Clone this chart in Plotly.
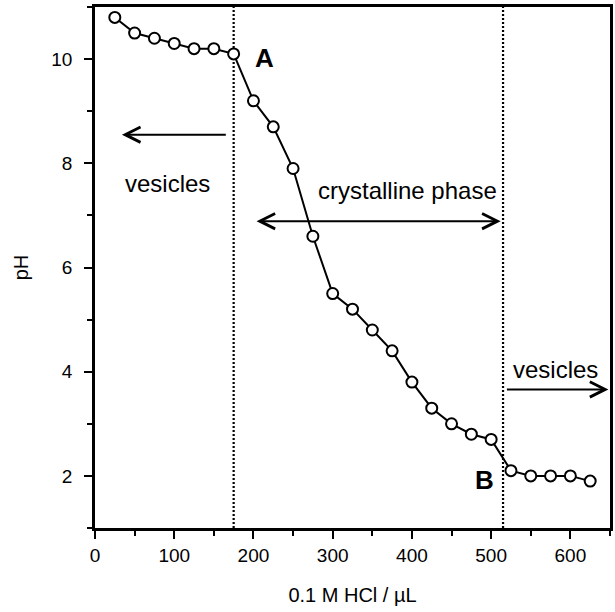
import plotly.graph_objects as go

# Data
hcl_ul = [25, 50, 75, 100, 125, 150, 175, 200, 225, 250, 275, 300, 325,
          350, 375, 400, 425, 450, 475, 500, 525, 550, 575, 600, 625]
ph = [10.8, 10.5, 10.4, 10.3, 10.2, 10.2, 10.1, 9.2, 8.7, 7.9, 6.6, 5.5, 5.2,
      4.8, 4.4, 3.8, 3.3, 3.0, 2.8, 2.7, 2.1, 2.0, 2.0, 2.0, 1.9]
boundaries = [175, 515]
x_ticks = [0, 100, 200, 300, 400, 500, 600]
y_ticks = [2, 4, 6, 8, 10]

FONT = "Liberation Sans, Arial, sans-serif"

fig = go.Figure()
fig.add_trace(go.Scatter(
    x=hcl_ul, y=ph, mode="lines+markers",
    line=dict(color="black", width=2),
    marker=dict(symbol="circle", size=11, color="white",
                line=dict(color="black", width=2)),
    showlegend=False, hoverinfo="x+y"))

for b in boundaries:
    fig.add_shape(type="line", x0=b, x1=b, y0=0, y1=1, xref="x", yref="paper",
                  line=dict(color="black", width=2.2, dash="2px,2px"), layer="below")

ann = []
# arrows
ann.append(dict(x=34, y=8.55, ax=167, ay=8.55, xref="x", yref="y", axref="x", ayref="y",
                text="", showarrow=True, arrowhead=5, arrowsize=1.5, arrowwidth=2,
                arrowcolor="black", standoff=0, startstandoff=0))
ann.append(dict(x=512, y=6.89, ax=202, ay=6.89, xref="x", yref="y", axref="x", ayref="y",
                text="", showarrow=True, arrowhead=5, startarrowhead=5, arrowside="end+start",
                arrowsize=1.5, startarrowsize=1.5, arrowwidth=2,
                arrowcolor="black", standoff=0, startstandoff=0))
ann.append(dict(x=648, y=3.66, ax=518, ay=3.66, xref="x", yref="y", axref="x", ayref="y",
                text="", showarrow=True, arrowhead=5, arrowsize=1.5, arrowwidth=2,
                arrowcolor="black", standoff=0, startstandoff=0))
# labels
txt_font = dict(family=FONT, size=24, color="black")
ann.append(dict(x=92, y=7.62, xref="x", yref="y", text="vesicles", showarrow=False, font=txt_font))
ann.append(dict(x=394, y=7.47, xref="x", yref="y", text="crystalline phase", showarrow=False, font=txt_font))
ann.append(dict(x=581, y=4.04, xref="x", yref="y", text="vesicles", showarrow=False, font=txt_font))
bold_font = dict(family=FONT, size=26, color="black")
ann.append(dict(x=214, y=10.03, xref="x", yref="y", text="<b>A</b>", showarrow=False, font=bold_font))
ann.append(dict(x=491, y=1.93, xref="x", yref="y", text="<b>B</b>", showarrow=False, font=bold_font))

axis_common = dict(
    showline=True, linecolor="black", linewidth=2.5, mirror=True,
    ticks="outside", ticklen=8, tickwidth=2, tickcolor="black",
    showgrid=False, zeroline=False,
    tickfont=dict(family=FONT, size=19, color="black"),
)

fig.update_layout(
    width=615, height=612,
    margin=dict(l=95, r=2, t=7, b=84),
    paper_bgcolor="white", plot_bgcolor="white",
    font=dict(family=FONT, color="black"),
    annotations=ann,
    xaxis=dict(range=[0, 650], tickvals=x_ticks,
               minor=dict(dtick=50, tick0=0, ticks="outside", ticklen=5, tickwidth=2, tickcolor="black"),
               title=dict(text="0.1 M HCl / µL", font=dict(family=FONT, size=20, color="black"), standoff=24),
               **axis_common),
    yaxis=dict(range=[1, 11], tickvals=y_ticks, ticklabelstandoff=8,
               minor=dict(dtick=1, tick0=1, ticks="outside", ticklen=5, tickwidth=2, tickcolor="black"),
               title=dict(text="pH", font=dict(family=FONT, size=20, color="black"), standoff=18),
               **axis_common),
)

# remove the default page margin so the 615x612 figure fills the window exactly
fig.write_html(
    "out.html",
    config={"displayModeBar": False},
    post_script="document.documentElement.style.overflow='hidden';"
                "document.body.style.margin='0';document.body.style.overflow='hidden';",
)
